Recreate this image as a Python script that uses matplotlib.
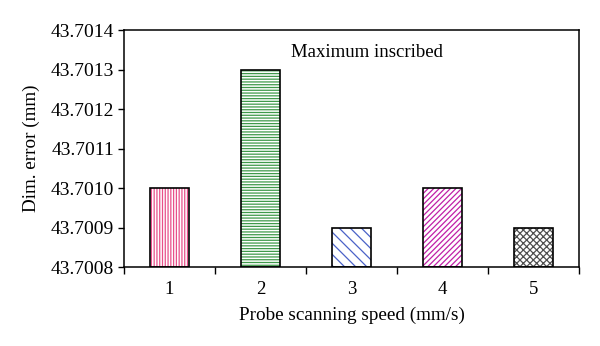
import matplotlib
matplotlib.use("Agg")
import matplotlib.pyplot as plt
from matplotlib.ticker import StrMethodFormatter, FixedLocator

# data
speeds = ["1", "2", "3", "4", "5"]
dim_error = [43.7010, 43.7013, 43.7009, 43.70100, 43.7009]
hatch_colors = ["#e8508a", "#3f9a4a", "#4a62c8", "#c020a8", "#505050"]
hatches = ["||||||", "------", "\\\\\\", "//////", "xxxxx"]

plt.rcParams["font.family"] = ["Liberation Serif", "DejaVu Serif"]
plt.rcParams["hatch.linewidth"] = 0.9

fig = plt.figure(figsize=(6.0, 3.46), dpi=100)
ax = fig.add_axes([124 / 600, 1 - 267 / 346, 455 / 600, 237 / 346])

pos = list(range(len(speeds)))
base = 43.7008
heights = [v - base for v in dim_error]
for i in pos:
    ax.bar(i, heights[i], bottom=base, width=0.42, color="white",
           edgecolor=hatch_colors[i], hatch=hatches[i], linewidth=0, zorder=2)
    ax.bar(i, heights[i], bottom=base, width=0.42, fill=False,
           edgecolor="black", linewidth=1.2, zorder=3)

ax.set_xlim(-0.5, 4.5)
ax.set_ylim(43.7008, 43.7014)
ax.yaxis.set_major_locator(FixedLocator([43.7008 + 0.0001 * k for k in range(7)]))
ax.yaxis.set_major_formatter(StrMethodFormatter("{x:.4f}"))
ax.set_xticks(pos)
ax.set_xticklabels(speeds)
ax.set_xticks([p - 0.5 for p in range(6)], minor=True)
ax.tick_params(axis="x", which="major", length=0, pad=10, labelsize=13.5)
ax.tick_params(axis="x", which="minor", length=5, direction="out", width=1)
ax.tick_params(axis="y", length=4, direction="out", width=1, labelsize=14, pad=3)

for s in ax.spines.values():
    s.set_linewidth(1.1)

ax.text(0.534, 0.905, "Maximum inscribed", transform=ax.transAxes,
        ha="center", va="center", fontsize=13.5)
ax.set_xlabel("Probe scanning speed (mm/s)", fontsize=13.8, labelpad=6)
ax.set_ylabel("Dim. error (mm)", fontsize=13.8, labelpad=8)

fig.savefig("out.png", dpi=100, facecolor="white")
